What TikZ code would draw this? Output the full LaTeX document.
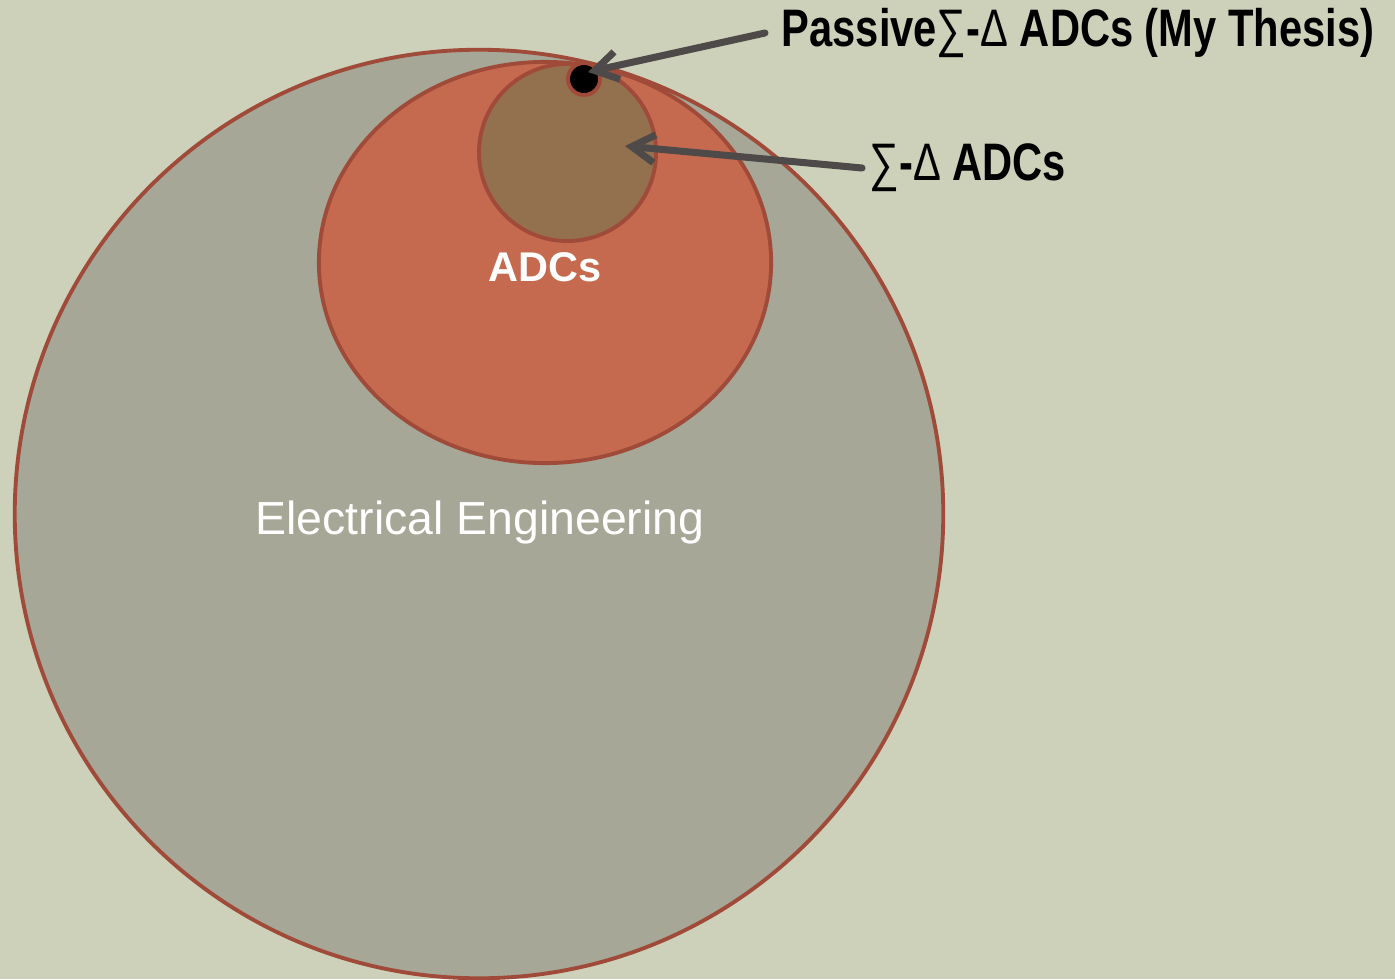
\documentclass[tikz,border=0pt]{standalone}
\usepackage{fontspec}
\setmainfont{Liberation Sans}
\newfontfamily\narrowfont[FakeStretch=0.79]{Liberation Sans}
\usetikzlibrary{arrows.meta, shapes.geometric}
\definecolor{cback}{HTML}{CDD1B9}
\definecolor{cgreyfill}{HTML}{A6A796}
\definecolor{cadc}{HTML}{C5694F}
\definecolor{csd}{HTML}{93714F}
\definecolor{cedge}{HTML}{A04B3A}
\definecolor{cpointer}{HTML}{4F4A4A}
\tikzset{
  every picture/.style={x=0.01cm, y=-0.01cm},
  region/.style={draw=cedge, fill=#1, line width=1.1pt, inner sep=0pt},
  region/.default=cgreyfill,
  inlabel/.style={text=white, font=\fontsize{13.2}{15}\selectfont},
  outlabel/.style={text=black, anchor=west, inner sep=0pt, font=\narrowfont\bfseries\fontsize{15}{17}\selectfont},
  pointer/.style={-{Straight Barb[length=2.3mm, width=2.8mm]}, draw=cpointer, line width=2pt, line cap=round},
}
\newcommand{\sdsym}{{\mdseries ∑}-{\mdseries Δ}}

\begin{document}
\begin{tikzpicture}
  \useasboundingbox (0,0) rectangle (1395,979);
  \fill[cback] (0,0) rectangle (1395,979);
  % nested regions
  \node[region, circle, minimum size=9.28cm] (ee) at (479,514) {};
  \node[region=cadc, ellipse, minimum width=4.52cm, minimum height=4.01cm] (adc) at (545,262.5) {};
  \node[region=csd, circle, minimum size=1.77cm] (sd) at (567.5,152.5) {};
  \node[region=black, circle, minimum size=0.32cm] (dot) at (584,79) {};
  \node[inlabel] (eelabel) at (480,522) {Electrical Engineering};
  \node[inlabel, font=\bfseries\fontsize{11.8}{14}\selectfont] (adclabel) at (545,267) {ADCs};
  % labels on the right
  \node[outlabel] (thesis) at (781,33) {Passive\sdsym{} ADCs (My Thesis)};
  \node[outlabel] (sdlabel) at (869,168) {\sdsym{} ADCs};
  \coordinate (thesis tip) at (588,72);
  \coordinate (sd tip) at (625,146);
  \draw[pointer] ([xshift=-1.6mm]thesis.west) -- (thesis tip);
  \draw[pointer] ([xshift=-0.7mm]sdlabel.west) -- (sd tip);
\end{tikzpicture}
\end{document}
